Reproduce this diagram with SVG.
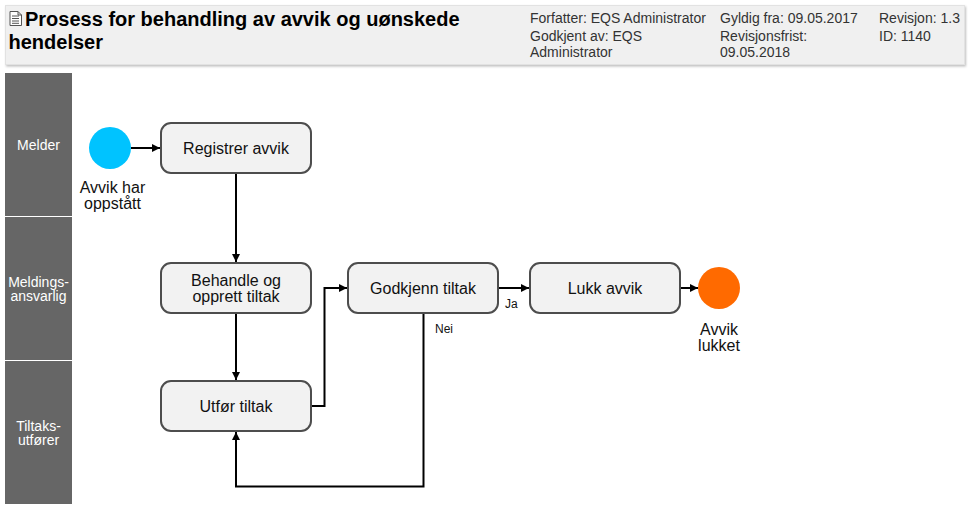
<svg xmlns="http://www.w3.org/2000/svg" width="973" height="512" viewBox="0 0 973 512">
<defs>
<style>
text{font-family:"Liberation Sans",Arial,sans-serif}
.box{fill:#f2f2f2;stroke:#4d4d4d;stroke-width:2}
.lane{fill:#666666}
.lt{fill:#ffffff;font-size:14px;text-anchor:middle}
.nt{fill:#111111;font-size:16px;text-anchor:middle}
.meta{fill:#333333;font-size:14px}
.title{fill:#000000;font-size:20px;font-weight:bold}
.el{fill:#111111;font-size:12px}
.con{fill:none;stroke:#000000;stroke-width:2;marker-end:url(#a)}
</style>
<marker id="a" markerUnits="userSpaceOnUse" markerWidth="10" markerHeight="10" refX="8" refY="5" orient="auto"><path d="M0 1 L8 5 L0 9 Z" fill="#000000"/></marker>
<filter id="s" x="-2%" y="-10%" width="104%" height="125%"><feDropShadow dx="1" dy="1.5" stdDeviation="1.2" flood-color="#000000" flood-opacity="0.25"/></filter>
</defs>
<g id="header">
<rect x="5.500" y="5.500" width="959" height="59" fill="#f0f0f0" stroke="#e2e2e2" filter="url(#s)"/>
<path d="M10 11.500 H18 L21.500 15 V25.500 H10 Z M18 11.500 V15 H21.500 M12 16 H19 M12 18.500 H19 M12 21 H19 M12 23.300 H19" fill="#ffffff" stroke="#555555" stroke-width="1"/>
<text class="title" x="25" y="26">Prosess for behandling av avvik og uønskede</text>
<text class="title" x="8.500" y="49">hendelser</text>
<text class="meta" x="530" y="23">Forfatter: EQS Administrator</text>
<text class="meta" x="530" y="41">Godkjent av: EQS</text>
<text class="meta" x="530" y="57">Administrator</text>
<text class="meta" x="720" y="23">Gyldig fra: 09.05.2017</text>
<text class="meta" x="720" y="41">Revisjonsfrist:</text>
<text class="meta" x="720" y="57">09.05.2018</text>
<text class="meta" x="879" y="23">Revisjon: 1.3</text>
<text class="meta" x="879" y="41">ID: 1140</text>
</g>
<g id="lane-melder"><rect class="lane" x="5" y="73" width="67" height="143"/><text class="lt" x="38.500" y="150">Melder</text></g>
<g id="lane-meldingsansvarlig"><rect class="lane" x="5" y="217" width="67" height="143"/><text class="lt" x="38.500" y="287">Meldings-</text><text class="lt" x="38.500" y="301">ansvarlig</text></g>
<g id="lane-tiltaksutforer"><rect class="lane" x="5" y="361" width="67" height="143"/><text class="lt" x="38.500" y="431">Tiltaks-</text><text class="lt" x="38.500" y="445">utfører</text></g>
<g id="connectors">
<path class="con" d="M131 148 H160"/>
<path class="con" d="M236 173 V262"/>
<path class="con" d="M236 314 V380"/>
<path class="con" d="M312 406 H324.500 V288 H347"/>
<path class="con" d="M423.500 314 V486.500 H236 V432"/>
<path class="con" d="M498 288 H529"/>
<path class="con" d="M680 288 H698"/>
<text class="el" x="505" y="308">Ja</text>
<text class="el" x="435" y="333">Nei</text>
</g>
<g id="start"><circle cx="110" cy="148" r="21" fill="#00c3ff"/><text class="nt" x="112.500" y="193">Avvik har</text><text class="nt" x="112.500" y="209">oppstått</text></g>
<g id="registrer"><rect class="box" x="161" y="123" width="150" height="50" rx="10"/><text class="nt" x="236" y="154">Registrer avvik</text></g>
<g id="behandle"><rect class="box" x="161" y="263" width="150" height="50" rx="10"/><text class="nt" x="236" y="286">Behandle og</text><text class="nt" x="236" y="302">opprett tiltak</text></g>
<g id="utfor"><rect class="box" x="161" y="381" width="150" height="50" rx="10"/><text class="nt" x="236" y="412">Utfør tiltak</text></g>
<g id="godkjenn"><rect class="box" x="348" y="263" width="150" height="50" rx="10"/><text class="nt" x="423" y="294">Godkjenn tiltak</text></g>
<g id="lukk"><rect class="box" x="530" y="263" width="150" height="50" rx="10"/><text class="nt" x="605" y="294">Lukk avvik</text></g>
<g id="end"><circle cx="719" cy="288" r="21" fill="#ff6a00"/><text class="nt" x="719" y="335">Avvik</text><text class="nt" x="719" y="351">lukket</text></g>
</svg>
